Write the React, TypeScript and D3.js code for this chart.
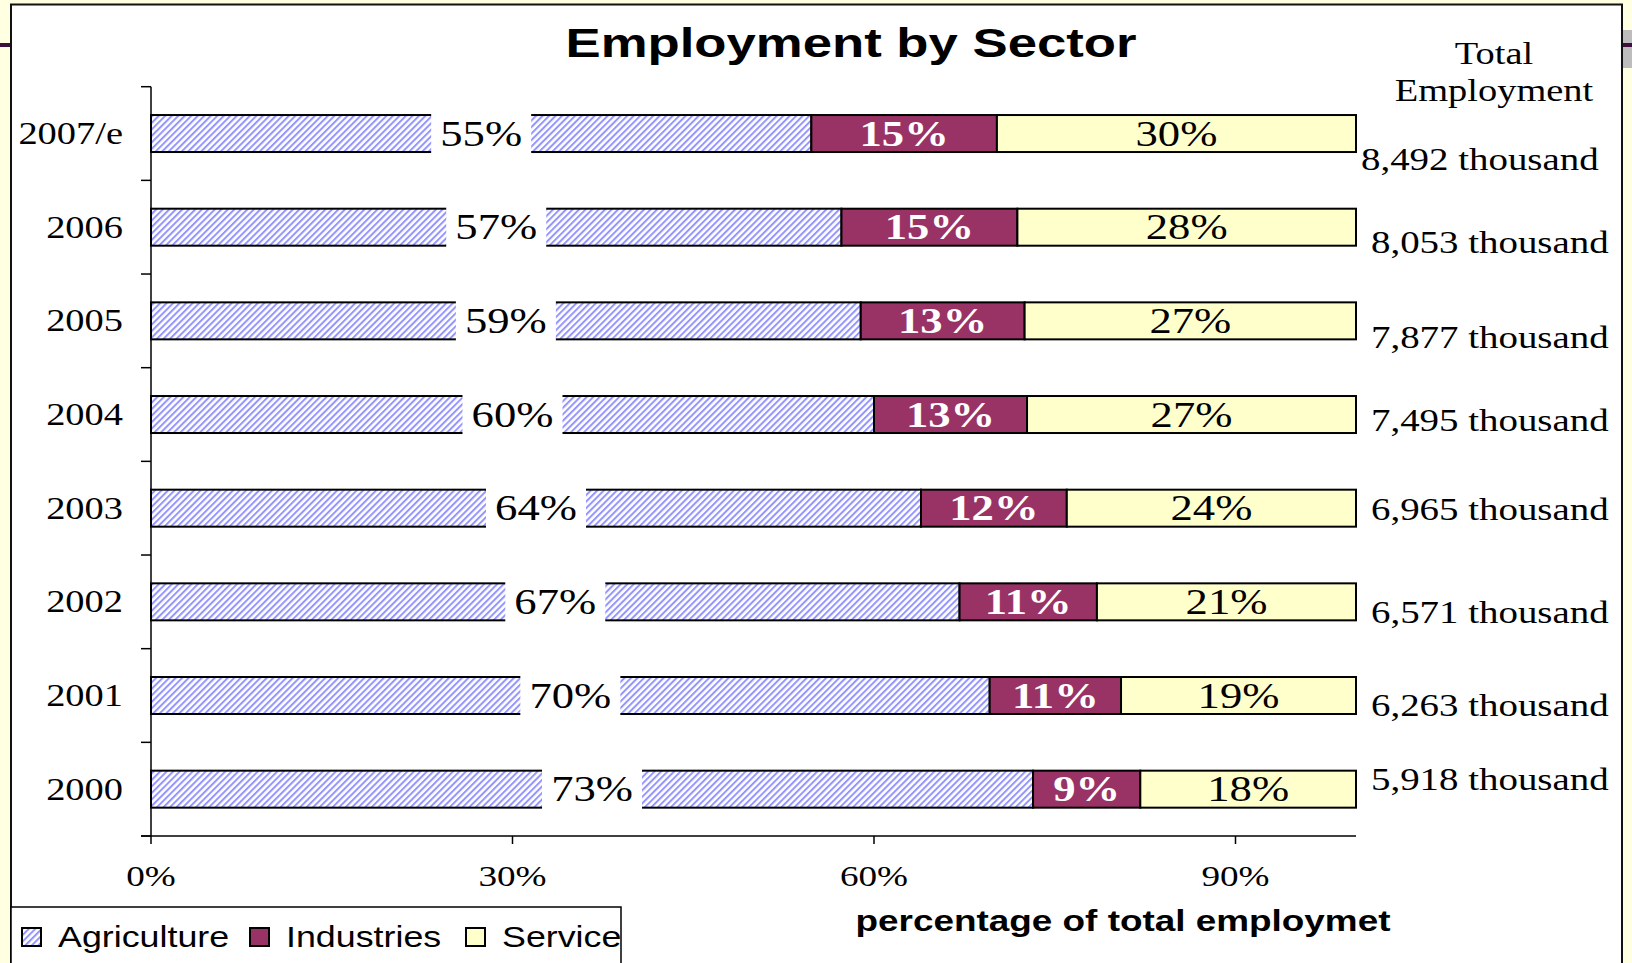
import React from "react";
import * as d3 from "d3";

const years = ["2007/e", "2006", "2005", "2004", "2003", "2002", "2001", "2000"];
const agriculture = [54.8, 57.3, 58.9, 60.0, 63.9, 67.1, 69.6, 73.2];
const industries = [15.4, 14.6, 13.6, 12.7, 12.1, 11.4, 10.9, 8.9];
const service = [29.8, 28.1, 27.5, 27.3, 24.0, 21.5, 19.5, 17.9];
const agricultureLabels = ["55%", "57%", "59%", "60%", "64%", "67%", "70%", "73%"];
const industriesLabels = ["15%", "15%", "13%", "13%", "12%", "11%", "11%", "9%"];
const serviceLabels = ["30%", "28%", "27%", "27%", "24%", "21%", "19%", "18%"];
const totalEmployment = [8492, 8053, 7877, 7495, 6965, 6571, 6263, 5918];
const xTicks = [0, 30, 60, 90];
const legendItems = ["Agriculture", "Industries", "Service"];

// layout only
const totalDy = [36, 26, 27, 16, 12, 21, 20, 1];
const totalDx = [-10, 0, 0, 0, 0, 0, 0, 0];

const W = 1632;
const H = 963;
const SERIF = "'Liberation Serif', 'Times New Roman', serif";
const SANS = "'Liberation Sans', Arial, sans-serif";
const SX = 1.24;

function T(props: any) {
  const { x, y, anchor = "middle", size, weight = "normal", family = SERIF, fill = "#000", sx = SX, children } = props;
  return (
    <text
      transform={`translate(${x},${y}) scale(${sx},1)`}
      textAnchor={anchor}
      fontSize={size}
      fontWeight={weight}
      fontFamily={family}
      fill={fill}
    >
      {children}
    </text>
  );
}

export default function App() {
  const x = d3.scaleLinear().domain([0, 100]).range([151, 1356]);
  const y = d3
    .scaleBand<string>()
    .domain(years)
    .range([86.7, 836])
    .paddingInner(0.605)
    .paddingOuter(0.3025);
  const bw = y.bandwidth();
  const step = y.step();
  const fmt = d3.format(",");
  const catTicks = d3.range(years.length + 1).map((i) => 86.7 + i * step);

  const legendColors = ["url(#hatch)", "#993366", "#FFFFCC"];
  const legendX = [22, 250, 466];

  return (
    <svg width={W} height={H} style={{ position: "absolute", left: 0, top: 0 }}>
      <defs>
        <pattern id="hatch" width="4.6" height="4.6" patternUnits="userSpaceOnUse" patternTransform="rotate(45)">
          <rect width="4.6" height="4.6" fill="#ffffff" />
          <rect width="2" height="4.6" fill="#9595ff" />
        </pattern>
      </defs>
      <rect x={0} y={0} width={W} height={H} fill="#FFFFE1" />
      <rect x={0} y={43} width={12} height={4} fill="#3f0f3f" />
      <rect x={1622} y={30} width={10} height={38} fill="#bdbdbd" />
      <rect x={1622} y={43} width={10} height={4} fill="#3f0f3f" />
      <rect x={11} y={4.5} width={1611} height={H + 10} fill="#ffffff" stroke="#111" strokeWidth={2} />

      {/* title */}
      <text x={851} y={57} textAnchor="middle" fontFamily={SANS} fontWeight="bold" fontSize={40} textLength={571} lengthAdjust="spacingAndGlyphs">
        Employment by Sector
      </text>

      {/* header */}
      <T x={1494} y={64} size={31}>Total</T>
      <T x={1494} y={101} size={31}>Employment</T>

      {/* axes */}
      <line x1={151} x2={151} y1={86.7} y2={836} stroke="#000" strokeWidth={1.5} />
      {catTicks.map((t, i) => (
        <line key={"ct" + i} x1={141} x2={151} y1={t} y2={t} stroke="#000" strokeWidth={1.5} />
      ))}
      <line x1={141} x2={x(100)} y1={836} y2={836} stroke="#000" strokeWidth={1.5} />
      {xTicks.map((t) => (
        <g key={"xt" + t}>
          <line x1={x(t)} x2={x(t)} y1={836} y2={844} stroke="#000" strokeWidth={1.5} />
          <T x={x(t)} y={886} size={30}>{t + "%"}</T>
        </g>
      ))}

      {years.map((yr, i) => {
        const top = y(yr) as number;
        const cy = top + bw / 2;
        const a0 = x(0), a1 = x(agriculture[i]);
        const i1 = x(agriculture[i] + industries[i]);
        const s1 = x(agriculture[i] + industries[i] + service[i]);
        const ac = (a0 + a1) / 2;
        return (
          <g key={yr}>
            <T x={123} y={cy + 10.5} size={31} anchor="end">{yr}</T>
            <rect x={a0} y={top} width={a1 - a0} height={bw} fill="url(#hatch)" stroke="#000" strokeWidth={2} />
            <rect x={a1} y={top} width={i1 - a1} height={bw} fill="#993366" stroke="#000" strokeWidth={2} />
            <rect x={i1} y={top} width={s1 - i1} height={bw} fill="#FFFFCC" stroke="#000" strokeWidth={2} />
            <rect x={ac - 50} y={top - 3} width={100} height={bw + 6} fill="#ffffff" />
            <T x={ac} y={cy + 12} size={36}>{agricultureLabels[i]}</T>
            <T x={(a1 + i1) / 2} y={cy + 12} size={36} weight="bold" fill="#ffffff">{industriesLabels[i]}</T>
            <T x={(i1 + s1) / 2} y={cy + 12} size={36}>{serviceLabels[i]}</T>
            <T x={1371 + totalDx[i]} y={cy + totalDy[i]} size={31} anchor="start" sx={1.255}>{fmt(totalEmployment[i]) + " thousand"}</T>
          </g>
        );
      })}

      {/* axis title */}
      <T x={1123} y={931} size={30} weight="bold" family={SANS} sx={1.23}>percentage of total employmet</T>

      {/* legend */}
      <rect x={11} y={907} width={610} height={80} fill="#ffffff" stroke="#000" strokeWidth={1.5} />
      {legendItems.map((name, i) => (
        <g key={name}>
          <rect x={legendX[i]} y={928} width={19} height={18} fill={legendColors[i]} stroke="#000" strokeWidth={2} />
          <T x={legendX[i] + 36} y={947} size={29} anchor="start" family={SANS} sx={1.235}>{name}</T>
        </g>
      ))}
    </svg>
  );
}
